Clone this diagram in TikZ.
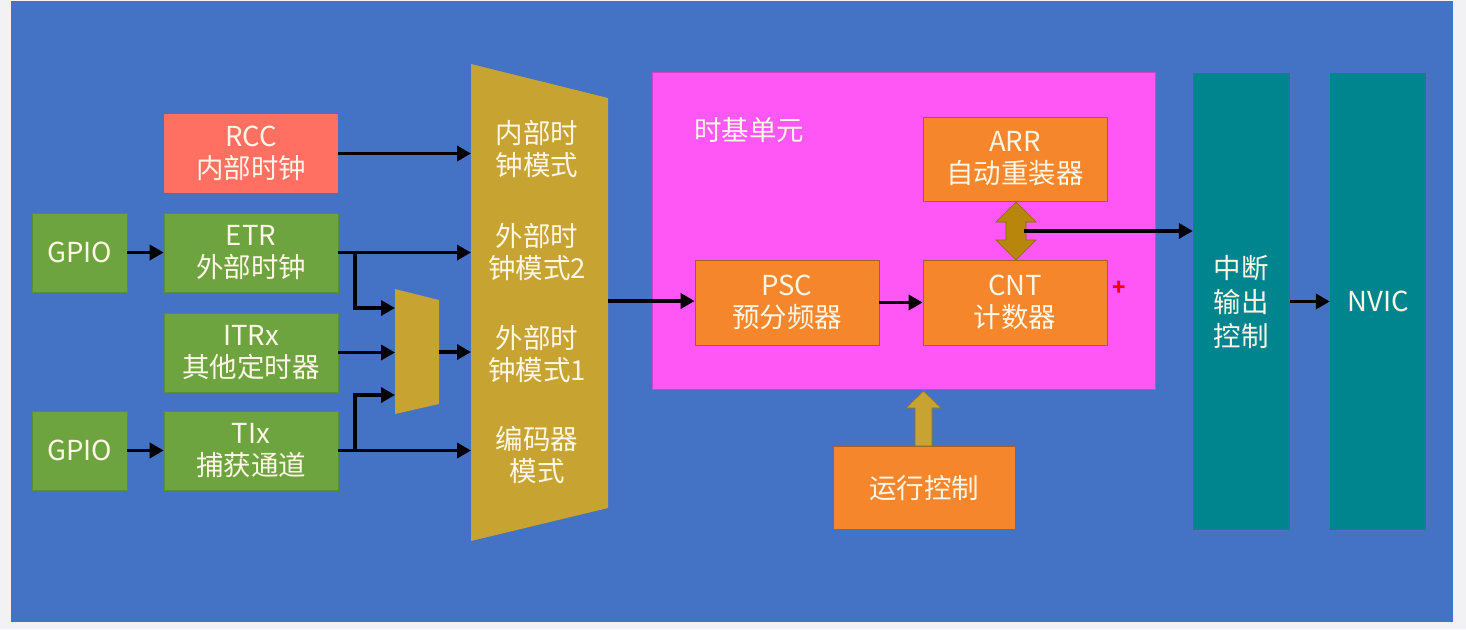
\documentclass[tikz,border=0pt]{standalone}
\usepackage{fontspec}
\setmainfont{Noto Sans CJK SC}
\usetikzlibrary{arrows.meta}
\definecolor{bgout}{HTML}{F2F2F4}
\definecolor{panel}{HTML}{4472C4}
\definecolor{salmon}{HTML}{FF7062}
\definecolor{grn}{HTML}{6EA440}
\definecolor{gold}{HTML}{C7A332}
\definecolor{mag}{HTML}{FF57F5}
\definecolor{org}{HTML}{F5862B}
\definecolor{teal}{HTML}{00858F}
\definecolor{txt}{HTML}{FFF6E6}
\definecolor{brown}{HTML}{B8860B}
\tikzset{
  blk/.style={rectangle, inner sep=0pt, text=txt, align=center,
    font=\fontsize{27.5}{32}\selectfont},
  gbox/.style={blk, fill=grn, draw=grn!85!black, line width=0.6pt},
  obox/.style={blk, fill=org, draw=org!70!black, line width=0.8pt},
  tbox/.style={blk, fill=teal},
  arr/.style={line width=3.6pt, -{Triangle[length=14pt,width=15pt]}},
  lbl/.style={text=txt, align=center, font=\fontsize{27.5}{32}\selectfont, inner sep=0pt}
}
\begin{document}
\begin{tikzpicture}[x=1pt,y=-1pt]
\fill[bgout] (0,0) rectangle (1466,629);
\useasboundingbox (0,0) rectangle (1466,629);
\fill[panel] (11,1) rectangle (1453,622);

% left inputs
\node[blk, fill=salmon, minimum width=174pt, minimum height=79pt] (rcc) at (251,153.5) {RCC\\内部时钟};
\node[gbox, minimum width=95pt, minimum height=79pt] (gpio1) at (79.5,252.5) {GPIO};
\node[gbox, minimum width=174pt, minimum height=79pt] (etr) at (251,252.5) {ETR\\外部时钟};
\node[gbox, minimum width=174pt, minimum height=79pt] (itr) at (251,352.5) {ITRx\\其他定时器};
\node[gbox, minimum width=95pt, minimum height=79pt] (gpio2) at (79.5,450.5) {GPIO};
\node[gbox, minimum width=174pt, minimum height=79pt] (tix) at (251,450.5) {TIx\\捕获通道};

% big mux
\fill[gold] (471,64) -- (608,98) -- (608,508) -- (471,541) -- cycle;
\coordinate (bmL) at (471,0);
\coordinate (bmOut) at (608,301);
\node[lbl] (m1) at (537,149) {内部时\\钟模式};
\node[lbl] (m2) at (537,252) {外部时\\钟模式2};
\node[lbl] (m3) at (537,354) {外部时\\钟模式1};
\node[lbl] (m4) at (537,455) {编码器\\模式};

% small mux
\fill[gold] (395,289) -- (439,300) -- (439,404) -- (395,414) -- cycle;
\coordinate (smIn1) at (395,308);
\coordinate (smIn2) at (395,352);
\coordinate (smIn3) at (395,395);
\coordinate (smOut) at (439,352);
\coordinate (br) at (355,0);

% time base unit
\node[rectangle, fill=mag, draw=mag!80!black, line width=0.6pt, minimum width=503pt, minimum height=317pt, inner sep=0pt] (tbu) at (903.5,230.5) {};
\node[lbl, anchor=west] (tbulbl) at (694,130) {时基单元};
\node[obox, minimum width=184pt, minimum height=84pt] (arr) at (1015,159) {ARR\\自动重装器};
\node[obox, minimum width=184pt, minimum height=85pt] (psc) at (787,302.5) {PSC\\预分频器};
\node[obox, minimum width=184pt, minimum height=85pt] (cnt) at (1015,302.5) {CNT\\计数器};
\node[text=red, font=\fontsize{22}{22}\selectfont\bfseries, inner sep=0pt] (plus) at (1119,288) {+};

% double arrow
\filldraw[fill=brown, draw=brown!75!black, line width=0.6pt]
  (1016,202) -- (1036,222) -- (1026,222) -- (1026,240) -- (1036,240) -- (1016,260)
  -- (996,240) -- (1006,240) -- (1006,222) -- (996,222) -- cycle;
\coordinate (dbl) at (1024,231);

% right columns
\node[tbox, minimum width=97pt, minimum height=457pt] (irq) at (1241.5,301.5) {};
\node[lbl, font=\fontsize{27.5}{34}\selectfont] (irqlbl) at (1241,302) {中断\\输出\\控制};
\node[tbox, minimum width=96pt, minimum height=457pt] (nvic) at (1378,301.5) {NVIC};

% run control
\node[obox, minimum width=182pt, minimum height=83pt] (run) at (924,488) {运行控制};
\filldraw[fill=gold, draw=gold!70!black, line width=0.6pt]
  (915,446) -- (915,408) -- (906,408) -- (923.5,391) -- (941,408) -- (932,408) -- (932,446) -- cycle;

% connectors
\draw[arr] (gpio1) -- (etr);
\draw[arr] (gpio2) -- (tix);
\draw[arr] (rcc.east) -- (rcc.east -| bmL);
\draw[arr] (etr.east) -- (etr.east -| bmL);
\draw[arr] (tix.east) -- (tix.east -| bmL);
\draw[arr] (etr.east -| br) |- (smIn1);
\draw[arr] (tix.east -| br) |- (smIn3);
\draw[arr] (itr.east) -- (itr.east -| smIn2);
\draw[arr] (smOut) -- (smOut -| bmL);
\draw[arr] (bmOut) -- (bmOut -| psc.west);
\draw[arr] (psc) -- (cnt);
\draw[arr] (dbl) -- (dbl -| irq.west);
\draw[arr] (irq) -- (nvic);
\end{tikzpicture}
\end{document}
